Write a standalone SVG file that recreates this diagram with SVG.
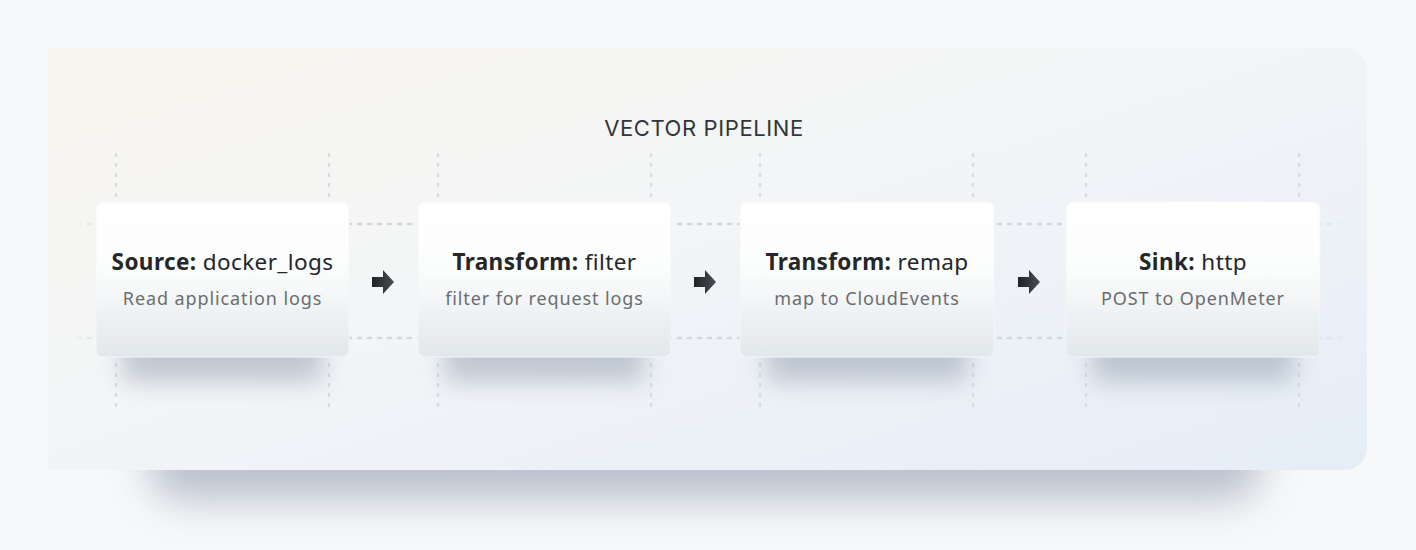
<svg xmlns="http://www.w3.org/2000/svg" width="1416" height="550" viewBox="0 0 1416 550">
<defs>
  <linearGradient id="pg" x1="0" y1="0" x2="1" y2="1">
    <stop offset="0" stop-color="#f8f5ee"/>
    <stop offset="0.45" stop-color="#f3f5f7"/>
    <stop offset="1" stop-color="#e5edf7"/>
  </linearGradient>
  <linearGradient id="ng" x1="0" y1="0" x2="0" y2="1">
    <stop offset="0" stop-color="#ffffff"/>
    <stop offset="0.45" stop-color="#fbfcfc"/>
    <stop offset="1" stop-color="#e2e7eb"/>
  </linearGradient>
  <linearGradient id="ag" x1="0" y1="0" x2="1" y2="0">
    <stop offset="0" stop-color="#1f2226"/>
    <stop offset="1" stop-color="#4a4e54"/>
  </linearGradient>
  <linearGradient id="hl" gradientUnits="userSpaceOnUse" x1="68" y1="0" x2="1350" y2="0">
    <stop offset="0" stop-color="#d3d8df" stop-opacity="0"/>
    <stop offset="0.04" stop-color="#d3d8df" stop-opacity="1"/>
    <stop offset="0.96" stop-color="#d3d8df" stop-opacity="1"/>
    <stop offset="1" stop-color="#d3d8df" stop-opacity="0"/>
  </linearGradient>
  <filter id="ps" x="-30%" y="-30%" width="160%" height="180%">
    <feGaussianBlur stdDeviation="20"/>
  </filter>
  <filter id="ns" x="-30%" y="-30%" width="160%" height="180%">
    <feGaussianBlur stdDeviation="12"/>
  </filter>
  <g id="arrow">
    <path d="M-11,-5 H0 V-12 L11,0 L0,12 V5 H-11 Z" fill="url(#ag)"/>
  </g>
</defs>
<style>
  .vl { stroke:#d8dce2; stroke-width:2.2; stroke-dasharray:4 6; stroke-linecap:butt; fill:none; }
  .hl { stroke:url(#hl); stroke-width:2.6; stroke-dasharray:3 7; stroke-linecap:round; fill:none; }
  .box { fill:url(#ng); stroke:#f4f6f8; stroke-width:1; }
  .shadow { fill:#98a3b2; opacity:0.55; filter:url(#ns); }
  .t1 { font-family:"Noto Sans","Liberation Sans",sans-serif; font-size:22.5px; letter-spacing:0.4px; fill:#242628; text-anchor:middle; }
  .t1 tspan.b { font-weight:700; }
  .t2 { font-family:"Noto Sans","Liberation Sans",sans-serif; font-size:18px; letter-spacing:0.9px; fill:#6b6d70; text-anchor:middle; }
  .title { font-family:"Inter","Liberation Sans",sans-serif; font-size:22px; fill:#333538; text-anchor:middle; letter-spacing:0.6px; }
</style>
<rect width="1416" height="550" fill="#f7f8f9"/>
<!-- panel shadow -->
<rect x="150" y="150" width="1110" height="350" rx="30" fill="#aab4c2" opacity="0.8" filter="url(#ps)"/>
<!-- panel -->
<path d="M48,48 H1345 A22,22 0 0 1 1367,70 V448 A22,22 0 0 1 1345,470 H52 A4,4 0 0 1 48,466 Z" fill="url(#pg)"/>
<text class="title" x="704" y="136">VECTOR PIPELINE</text>

<g id="grid">
  <line class="hl" x1="68" y1="224" x2="1350" y2="224"/>
  <line class="hl" x1="68" y1="338" x2="1350" y2="338"/>
  <g>
    <line class="vl" x1="116" y1="153" x2="116" y2="198"/>
    <line class="vl" x1="329" y1="153" x2="329" y2="198"/>
    <line class="vl" x1="438" y1="153" x2="438" y2="198"/>
    <line class="vl" x1="651" y1="153" x2="651" y2="198"/>
    <line class="vl" x1="760" y1="153" x2="760" y2="198"/>
    <line class="vl" x1="973" y1="153" x2="973" y2="198"/>
    <line class="vl" x1="1086" y1="153" x2="1086" y2="198"/>
    <line class="vl" x1="1299" y1="153" x2="1299" y2="198"/>
    <line class="vl" x1="116" y1="363" x2="116" y2="407"/>
    <line class="vl" x1="329" y1="363" x2="329" y2="407"/>
    <line class="vl" x1="438" y1="363" x2="438" y2="407"/>
    <line class="vl" x1="651" y1="363" x2="651" y2="407"/>
    <line class="vl" x1="760" y1="363" x2="760" y2="407"/>
    <line class="vl" x1="973" y1="363" x2="973" y2="407"/>
    <line class="vl" x1="1086" y1="363" x2="1086" y2="407"/>
    <line class="vl" x1="1299" y1="363" x2="1299" y2="407"/>
  </g>
</g>

<g id="connectors">
  <use href="#arrow" x="383" y="282"/>
  <use href="#arrow" x="705" y="282"/>
  <use href="#arrow" x="1029" y="282"/>
</g>

<g id="node-source">
  <rect class="shadow" x="122" y="250" width="201" height="132" rx="8"/>
  <rect class="box" x="96" y="202" width="253" height="155" rx="7"/>
  <text class="t1" x="222.5" y="270"><tspan class="b">Source:</tspan> docker_logs</text>
  <text class="t2" x="222.5" y="305">Read application logs</text>
</g>
<g id="node-filter">
  <rect class="shadow" x="444" y="250" width="201" height="132" rx="8"/>
  <rect class="box" x="418" y="202" width="253" height="155" rx="7"/>
  <text class="t1" x="544.5" y="270"><tspan class="b">Transform:</tspan> filter</text>
  <text class="t2" x="544.5" y="305">filter for request logs</text>
</g>
<g id="node-remap">
  <rect class="shadow" x="766" y="250" width="202" height="132" rx="8"/>
  <rect class="box" x="740" y="202" width="254" height="155" rx="7"/>
  <text class="t1" x="867" y="270"><tspan class="b">Transform:</tspan> remap</text>
  <text class="t2" x="867" y="305">map to CloudEvents</text>
</g>
<g id="node-sink">
  <rect class="shadow" x="1092" y="250" width="202" height="132" rx="8"/>
  <rect class="box" x="1066" y="202" width="254" height="155" rx="7"/>
  <text class="t1" x="1193" y="270"><tspan class="b">Sink:</tspan> http</text>
  <text class="t2" x="1193" y="305">POST to OpenMeter</text>
</g>
</svg>
